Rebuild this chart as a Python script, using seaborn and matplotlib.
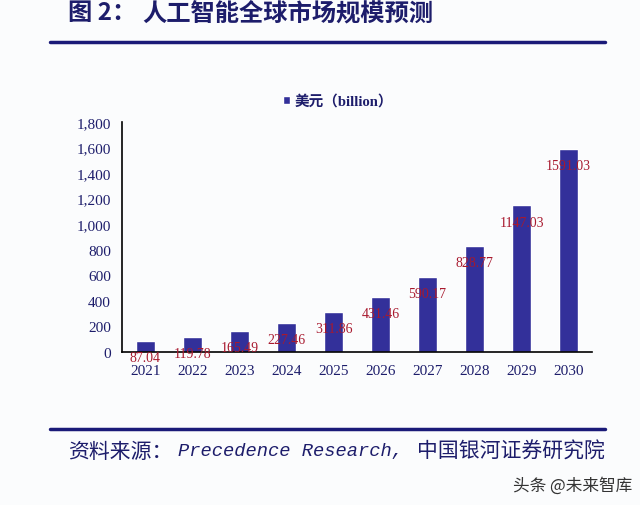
import matplotlib
matplotlib.use("Agg")
import matplotlib.pyplot as plt
import seaborn as sns
import pandas as pd

# data
years = ['2021', '2022', '2023', '2024', '2025', '2026', '2027', '2028', '2029', '2030']
market_usd_bn = [87.04, 119.78, 165.49, 227.46, 311.86, 431.46, 590.17, 828.77, 1147.03, 1591.03]
y_ticks = [0, 200, 400, 600, 800, 1000, 1200, 1400, 1600, 1800]

title_head = '图 2：'
title_text = '人工智能全球市场规模预测'
legend_text = '美元（billion）'
source_parts = ['资料来源：', 'Precedence Research,', '中国银河证券研究院']
watermark_text = '头条 @未来智库'

navy = '#1d1d6b'
bar_color = '#33309a'
label_red = '#a8192e'
bg = '#fbfcfd'

sns.set_style('white')
plt.rcParams['font.family'] = ['Liberation Serif', 'Noto Sans CJK SC', 'DejaVu Sans']

df = pd.DataFrame({'year': years, 'value': market_usd_bn})

fig = plt.figure(figsize=(6.4, 5.06), dpi=100, facecolor=bg)
ax = fig.add_axes([122 / 640, 1 - 353 / 506, 470 / 640, 230 / 506])
ax.set_facecolor(bg)

sns.barplot(data=df, x='year', y='value', color=bar_color, width=0.4,
            saturation=1, label=legend_text, ax=ax)

ax.set_ylim(0, 1800)
ax.set_xlim(-0.5, len(years) - 0.5)
ax.set_yticks(y_ticks)
ax.set_yticklabels([f'{t:,}' for t in y_ticks])
ax.set_xlabel('')
ax.set_ylabel('')

# value labels sit just under the top of each bar
for i, v in enumerate(market_usd_bn):
    ax.annotate(f'{v:.2f}', xy=(i, v), xytext=(0, -12), textcoords='offset points',
                ha='center', va='center', color=label_red, fontsize=10,
                family=['Liberation Serif'])

for s in ['top', 'right']:
    ax.spines[s].set_visible(False)
for s in ['left', 'bottom']:
    ax.spines[s].set_color('black')
    ax.spines[s].set_linewidth(1.2)

ax.tick_params(axis='y', direction='in', length=4, width=1, colors='black',
               labelcolor=navy, labelsize=11, pad=8)
ax.tick_params(axis='x', which='major', length=0, labelcolor=navy, labelsize=11, pad=9)
ax.set_xticks([i + 0.5 for i in range(len(years))], minor=True)
ax.tick_params(axis='x', which='minor', direction='in', length=4, width=1, color='black')

leg = ax.legend(loc='center', bbox_to_anchor=(338 / 640, 1 - 102 / 506),
                bbox_transform=fig.transFigure, frameon=False,
                handlelength=0.5, handleheight=0.5, handletextpad=0.3,
                prop={'family': ['Liberation Serif', 'Noto Sans CJK SC'], 'weight': 'bold', 'size': 10.5})
for t in leg.get_texts():
    t.set_color(navy)

# header
fig.text(68 / 640, 1 - 13 / 506, title_head, ha='left', va='center', fontsize=17.5,
         fontweight='bold', color=navy, family=['Noto Sans CJK SC'])
fig.text(142 / 640, 1 - 13 / 506, title_text, ha='left', va='center', fontsize=17.5,
         fontweight='bold', color=navy, family=['Noto Sans CJK SC'])
fig.add_artist(plt.Line2D([50 / 640, 605 / 640], [1 - 43 / 506] * 2, color='#1a1a78', lw=2.5))

# footer
fig.add_artist(plt.Line2D([50 / 640, 605 / 640], [1 - 430 / 506] * 2, color='#1a1a78', lw=2.5))
src_y = 1 - 452 / 506
fig.text(68 / 640, src_y, source_parts[0], ha='left', va='center', fontsize=15,
         style='italic', color=navy, family=['Noto Sans CJK SC'])
fig.text(178 / 640, src_y, source_parts[1], ha='left', va='center', fontsize=13.5,
         style='italic', color=navy, family=['Liberation Mono'])
fig.text(605 / 640, src_y, source_parts[2], ha='right', va='center', fontsize=15,
         style='italic', color=navy, family=['Noto Sans CJK SC'])
fig.text(632 / 640, 1 - 486 / 506, watermark_text, ha='right', va='center', fontsize=12,
         color='#333333', family=['Noto Sans CJK SC'])

fig.savefig('out.png', dpi=100, facecolor=bg)
